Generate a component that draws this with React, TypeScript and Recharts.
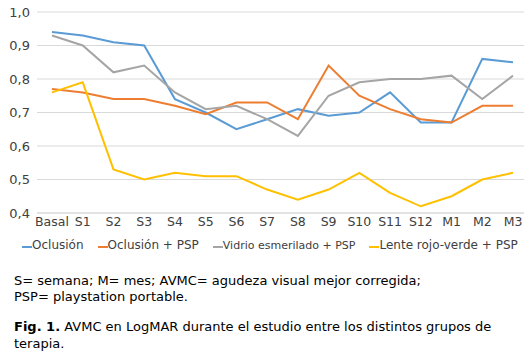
import { LineChart, Line, XAxis, YAxis, CartesianGrid, Legend } from 'recharts'

const categories = ['Basal', 'S1', 'S2', 'S3', 'S4', 'S5', 'S6', 'S7', 'S8', 'S9', 'S10', 'S11', 'S12', 'M1', 'M2', 'M3']
const oclusion = [0.94, 0.93, 0.91, 0.9, 0.74, 0.7, 0.65, 0.68, 0.71, 0.69, 0.7, 0.76, 0.67, 0.67, 0.86, 0.85]
const oclusionPsp = [0.77, 0.76, 0.74, 0.74, 0.72, 0.695, 0.73, 0.73, 0.68, 0.84, 0.75, 0.71, 0.68, 0.67, 0.72, 0.72]
const vidrioPsp = [0.93, 0.9, 0.82, 0.84, 0.76, 0.71, 0.72, 0.68, 0.63, 0.75, 0.79, 0.8, 0.8, 0.81, 0.74, 0.81]
const lentePsp = [0.76, 0.79, 0.53, 0.5, 0.52, 0.51, 0.51, 0.47, 0.44, 0.47, 0.52, 0.46, 0.42, 0.45, 0.5, 0.52]
const yTicks = [0.4, 0.5, 0.6, 0.7, 0.8, 0.9, 1.0]
const seriesOrder = ['oclusion', 'oclusionPsp', 'vidrioPsp', 'lentePsp']

const data = categories.map((c, i) => ({
  cat: c,
  oclusion: oclusion[i],
  oclusionPsp: oclusionPsp[i],
  vidrioPsp: vidrioPsp[i],
  lentePsp: lentePsp[i],
}))

const fmt = (v: number) => v.toFixed(1).replace('.', ',')
const font = '"DejaVu Sans", Verdana, sans-serif'

type LegendItem = { value?: string; color?: string; dataKey?: unknown }

// Excel-style legend: short coloured dash, label right next to it
function ChartLegend({ payload }: { payload?: LegendItem[] }) {
  const items = [...(payload ?? [])].sort(
    (a, b) => seriesOrder.indexOf(String(a.dataKey)) - seriesOrder.indexOf(String(b.dataKey))
  )
  return (
    <div style={{ display: 'flex', gap: 14, paddingLeft: 22, fontSize: 12, color: '#404040', fontFamily: font, whiteSpace: 'nowrap' }}>
      {items.map((it) => (
        <span
          key={String(it.dataKey)}
          style={{ display: 'inline-flex', alignItems: 'center', fontSize: it.dataKey === 'vidrioPsp' ? 11 : 12 }}
        >
          <span style={{ display: 'inline-block', width: 10, height: 2, background: it.color, marginTop: 3 }} />
          {it.value}
        </span>
      ))}
    </div>
  )
}

export default function App() {
  return (
    <div style={{ margin: -8, width: 532, height: 364, position: 'relative', background: '#fff', fontFamily: font }}>
      <LineChart width={532} height={252} data={data} margin={{ top: 12, right: 4, left: 0, bottom: 0 }}>
        <CartesianGrid vertical={false} stroke="#d9d9d9" />
        <XAxis
          dataKey="cat"
          tick={{ fontSize: 12.5, fill: '#404040', fontFamily: font }}
          tickLine={false}
          axisLine={{ stroke: '#d9d9d9' }}
          interval={0}
          padding={{ left: 15, right: 15 }}
          height={25}
          tickSize={0}
          tickMargin={4}
        />
        <YAxis
          domain={[0.4, 1.0]}
          ticks={yTicks}
          tickFormatter={fmt}
          tick={{ fontSize: 13, fill: '#404040', fontFamily: font }}
          tickLine={false}
          axisLine={false}
          width={37}
          tickSize={0}
          tickMargin={7}
        />
        <Legend content={<ChartLegend />} wrapperStyle={{ left: 0, width: 532 }} />
        <Line dataKey="oclusion" name="Oclusión" stroke="#5b9bd5" strokeWidth={2} dot={false} isAnimationActive={false} />
        <Line dataKey="oclusionPsp" name="Oclusión + PSP" stroke="#ed7d31" strokeWidth={2} dot={false} isAnimationActive={false} />
        <Line dataKey="vidrioPsp" name="Vidrio esmerilado + PSP" stroke="#a5a5a5" strokeWidth={2} dot={false} isAnimationActive={false} />
        <Line dataKey="lentePsp" name="Lente rojo-verde + PSP" stroke="#ffc000" strokeWidth={2} dot={false} isAnimationActive={false} />
      </LineChart>
      <div style={{ marginTop: 21, marginLeft: 14, fontSize: 13, lineHeight: '16px', color: '#000' }}>
        S= semana; M= mes; AVMC= agudeza visual mejor corregida;
        <br />
        PSP= playstation portable.
      </div>
      <div style={{ marginTop: 13, marginLeft: 14, fontSize: 13, lineHeight: '17px', color: '#000' }}>
        <b>Fig. 1.</b> AVMC en LogMAR durante el estudio entre los distintos grupos de
        <br />
        terapia.
      </div>
    </div>
  )
}
